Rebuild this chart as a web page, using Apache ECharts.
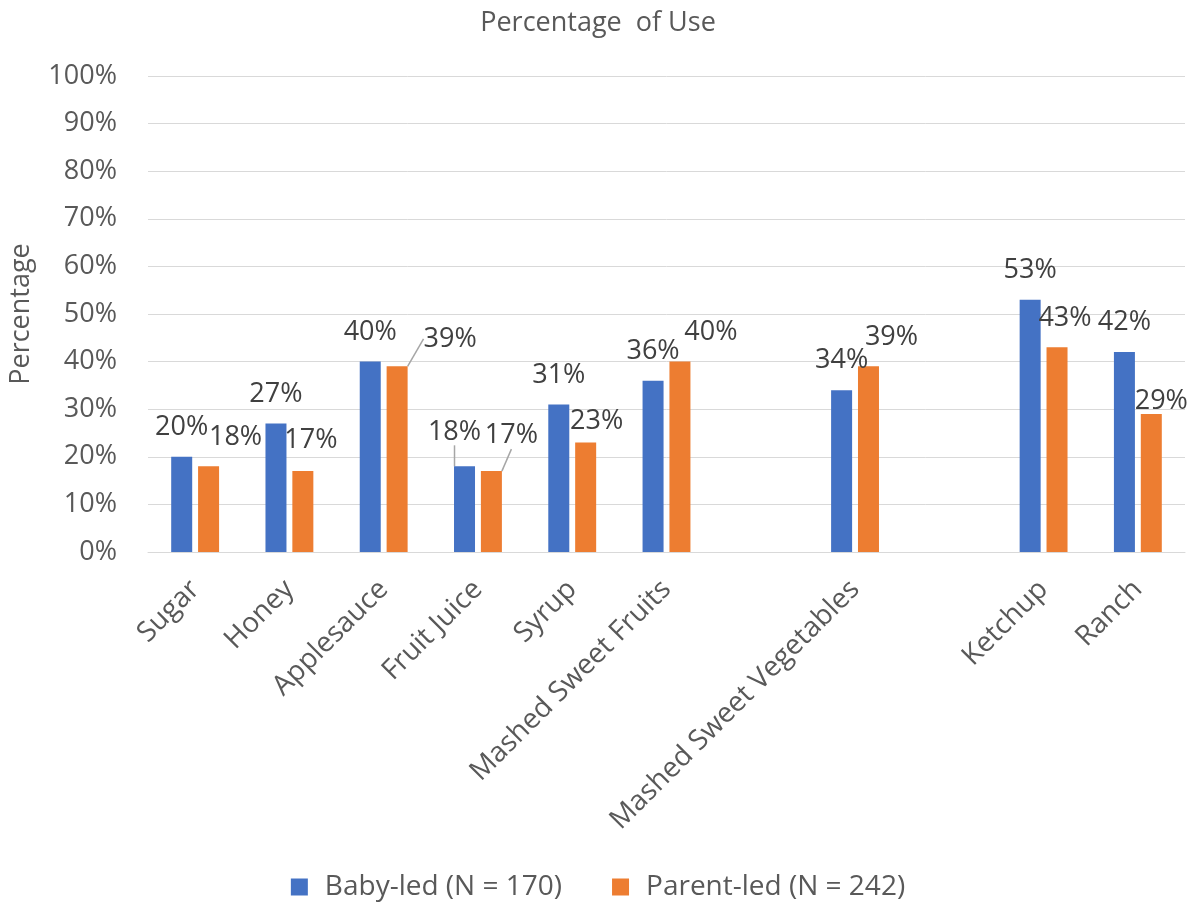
<!DOCTYPE html>
<html>
<head>
<meta charset="utf-8">
<script src="https://cdn.jsdelivr.net/npm/echarts@6/dist/echarts.min.js"></script>
<style>
html,body{margin:0;padding:0;background:#fff;}
#main{width:1196px;height:905px;}
</style>
</head>
<body>
<div id="main"></div>
<script>
// ---- data ----
const categories = ['Sugar', 'Honey', 'Applesauce', 'Fruit Juice', 'Syrup', 'Mashed Sweet Fruits', '', 'Mashed Sweet Vegetables', '', 'Ketchup', 'Ranch'];
const babyLed = [20, 27, 40, 18, 31, 36, null, 34, null, 53, 42];
const parentLed = [18, 17, 39, 17, 23, 40, null, 39, null, 43, 29];
const seriesNames = ['Baby-led (N = 170)', 'Parent-led (N = 242)'];
const yTicks = [0, 10, 20, 30, 40, 50, 60, 70, 80, 90, 100];

// ---- label layout (manual label placement as in the reference) ----
const labelShift = [
  [[0,0],[0,0],[0,0],[-10,-5],[0,0],[0,0],[0,0],[0,0],[0,0],[0,0],[0,0]],
  [[27,0],[8,-1],[53,2],[20,-6],[11,8],[31,0],[0,0],[23,0],[0,0],[8,0],[10,17]]
];
const leaderLines = [[3], [2, 3]];

const labelFont = 'Open Sans';

function buildData(values, si) {
  return values.map((v, i) => {
    if (v === null) return null;
    const item = { value: v };
    if (leaderLines[si].indexOf(i) >= 0) {
      item.labelLine = { show: true };
    }
    return item;
  });
}

const chart = echarts.init(document.getElementById('main'), null, { renderer: 'canvas' });
const colors = ['#4472C4', '#ED7D31'];

const option = {
  animation: false,
  backgroundColor: '#ffffff',
  title: {
    text: 'Percentage  of Use',
    left: 'center',
    top: 5,
    textStyle: { fontFamily: labelFont, fontSize: 27, fontWeight: 'normal', color: '#595959' }
  },
  legend: {
    top: 868,
    left: 'center',
    icon: 'rect',
    itemWidth: 17,
    itemHeight: 17,
    itemGap: 50,
    textStyle: { fontFamily: labelFont, fontSize: 28, color: '#595959', padding: [0, 0, 0, 12] },
    data: seriesNames
  },
  grid: { left: 148, right: 11, top: 76, bottom: 353, containLabel: false },
  xAxis: {
    type: 'category',
    data: categories,
    axisLine: { show: true, lineStyle: { color: '#d9d9d9', width: 1 } },
    axisTick: { show: false },
    axisLabel: {
      interval: 0,
      rotate: 45,
      margin: 33,
      fontFamily: labelFont,
      fontSize: 28,
      color: '#595959'
    }
  },
  yAxis: {
    type: 'value',
    min: yTicks[0],
    max: yTicks[yTicks.length - 1],
    interval: 10,
    name: 'Percentage',
    nameLocation: 'middle',
    nameGap: 113,
    nameRotate: 90,
    nameTextStyle: { fontFamily: labelFont, fontSize: 27, color: '#595959' },
    axisLine: { show: false },
    axisTick: { show: false },
    splitLine: { lineStyle: { color: '#d9d9d9', width: 1 } },
    axisLabel: {
      margin: 31,
      fontFamily: labelFont,
      fontSize: 27,
      color: '#595959',
      formatter: v => v + '%'
    }
  },
  series: [babyLed, parentLed].map((vals, si) => ({
    name: seriesNames[si],
    type: 'bar',
    data: buildData(vals, si),
    barWidth: 21,
    barGap: '28%',
    itemStyle: { color: colors[si] },
    label: {
      show: true,
      position: 'top',
      distance: 16,
      fontFamily: labelFont,
      fontSize: 27,
      color: '#404040',
      formatter: p => p.value + '%'
    },
    labelLine: { show: false, lineStyle: { color: '#a6a6a6', width: 1.5 } },
    labelLayout: function (params) {
      const s = labelShift[params.seriesIndex][params.dataIndex] || [0, 0];
      return { dx: s[0], dy: s[1] };
    }
  }))
};
chart.setOption(option);
</script>
</body>
</html>
